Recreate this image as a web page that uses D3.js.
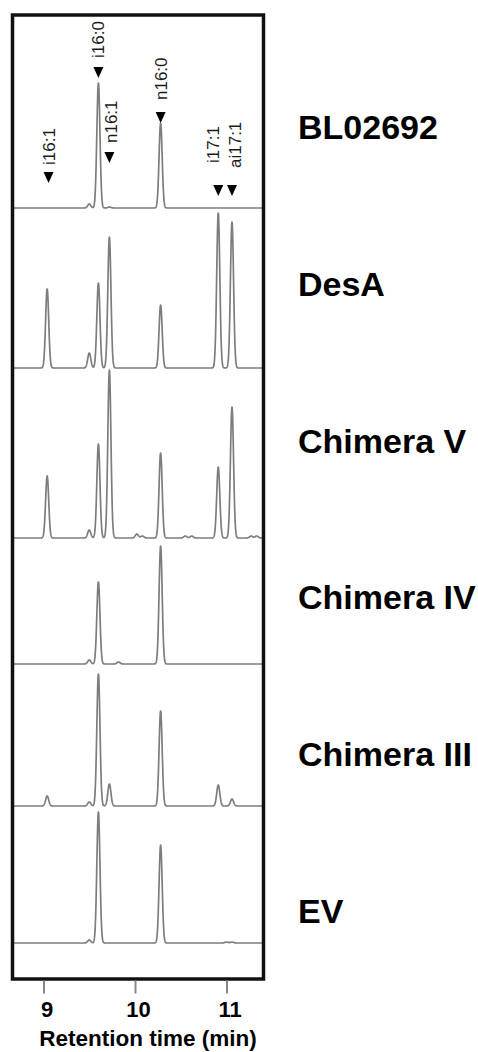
<!DOCTYPE html>
<html>
<head>
<meta charset="utf-8">
<script src="https://cdn.jsdelivr.net/npm/d3@7"></script>
<style>
  html, body { margin: 0; padding: 0; background: #fff; }
  svg { display: block; font-family: "Liberation Sans", Arial, Helvetica, sans-serif; }
</style>
</head>
<body>
<svg id="chart" width="478" height="1052"></svg>
<script>
// samples, top to bottom
const samples = ['BL02692', 'DesA', 'Chimera V', 'Chimera IV', 'Chimera III', 'EV'];

// main peaks (retention time, min): i16:1, unknown, i16:0, n16:1, n16:0, i17:1, ai17:1
const peakTimes = [9.04, 9.50, 9.60, 9.72, 10.28, 10.91, 11.06];
const peakHeights = [
  [0, 4, 125, 1, 85, 0, 0],
  [79, 15, 85, 131, 63, 155, 146],
  [62, 8, 94, 168, 85, 71, 131],
  [0, 4, 82, 0, 118, 0, 0],
  [10, 4, 132, 22, 95, 21, 7],
  [0, 3, 131, 0, 98, 0, 1]
];
// small baseline bumps [time, height]
const minorPeaks = [
  [],
  [],
  [[10.02, 4], [10.08, 2], [10.55, 2], [10.62, 2], [11.27, 2], [11.33, 2]],
  [[9.82, 2]],
  [],
  [[11.0, 1]]
];

// peak annotations over the first trace
const labelNames = ['i16:1', 'i16:0', 'n16:1', 'n16:0', 'i17:1', 'ai17:1'];
const labelTimes = [9.055, 9.60, 9.72, 10.28, 10.91, 11.06];

const tickValues = [9, 10, 11];

// layout
const frame = { x0: 12.5, x1: 263.5, y0: 15, y1: 979 };
const traceBaseY = [208, 368, 538, 664, 806, 943];
const markerTop = [172, 67, 152, 112, 185, 185];
const labelBottom = [165, 58, 143, 100, 163, 168];
const labelDx = [0, -1, 1, 0, -5, 3];
const sigma = 0.017;

const svg = d3.select('#chart');

const x = d3.scaleLinear().domain([9, 11]).range([43.5, 226.5]);
const amp = d3.scaleLinear().domain([0, 170]).range([0, 170]);
const nameY = d3.scaleLinear().domain([0, samples.length - 1]).range([139, 923]);

const t0 = x.invert(frame.x0 + 1.5), t1 = x.invert(frame.x1 - 1.5);
const grid = d3.range(t0, t1, 0.002).concat([t1]);

function signal(i, t) {
  let v = 0;
  const add = (c, h) => {
    if (!h) return;
    const z = (t - c) / sigma;
    v += h * Math.exp(-0.5 * z * z);
  };
  peakTimes.forEach((c, k) => add(c, peakHeights[i][k]));
  minorPeaks[i].forEach(p => add(p[0], p[1]));
  return v;
}

// traces
const traces = svg.append('g').attr('class', 'traces');
samples.forEach((s, i) => {
  const line = d3.line()
    .x(t => x(t))
    .y(t => traceBaseY[i] - amp(signal(i, t)));
  traces.append('path')
    .datum(grid)
    .attr('d', line)
    .attr('fill', 'none')
    .attr('stroke', '#7d7d7d')
    .attr('stroke-width', 1.7)
    .attr('stroke-linejoin', 'round');
});

// frame
svg.append('rect')
  .attr('x', frame.x0)
  .attr('y', frame.y0)
  .attr('width', frame.x1 - frame.x0)
  .attr('height', frame.y1 - frame.y0)
  .attr('fill', 'none')
  .attr('stroke', '#111')
  .attr('stroke-width', 3.5);

// peak markers
const ann = svg.append('g').attr('class', 'annotations');
labelNames.forEach((n, k) => {
  const px = x(labelTimes[k]);
  const ty = markerTop[k];
  ann.append('path')
    .attr('d', `M${px - 5},${ty} L${px + 5},${ty} L${px},${ty + 11} Z`)
    .attr('fill', '#000');
  ann.append('text')
    .attr('transform', `translate(${px + labelDx[k]},${labelBottom[k]}) rotate(-90)`)
    .attr('dy', '0.36em')
    .attr('font-size', 17)
    .attr('fill', '#1a1a1a')
    .text(n);
});

// sample names
svg.append('g').attr('class', 'names')
  .selectAll('text')
  .data(samples)
  .join('text')
  .attr('x', 298)
  .attr('y', (d, i) => nameY(i))
  .attr('font-size', 34)
  .attr('font-weight', 'bold')
  .attr('fill', '#000')
  .text(d => d);

// x axis
const axis = svg.append('g')
  .attr('transform', `translate(0,${frame.y1 + 1.5})`)
  .call(d3.axisBottom(x).tickValues(tickValues).tickSize(13).tickPadding(8).tickFormat(d3.format('d')));
axis.select('.domain').remove();
axis.selectAll('.tick line').attr('stroke', '#888').attr('stroke-width', 2);
axis.selectAll('.tick text')
  .attr('dx', 3)
  .attr('font-size', 22)
  .attr('font-weight', 'bold')
  .attr('font-family', '"Liberation Sans", Arial, sans-serif')
  .attr('fill', '#000');

svg.append('text')
  .attr('x', 148)
  .attr('y', 1046)
  .attr('text-anchor', 'middle')
  .attr('font-size', 22.5)
  .attr('font-weight', 'bold')
  .attr('fill', '#000')
  .text('Retention time (min)');
</script>
</body>
</html>
